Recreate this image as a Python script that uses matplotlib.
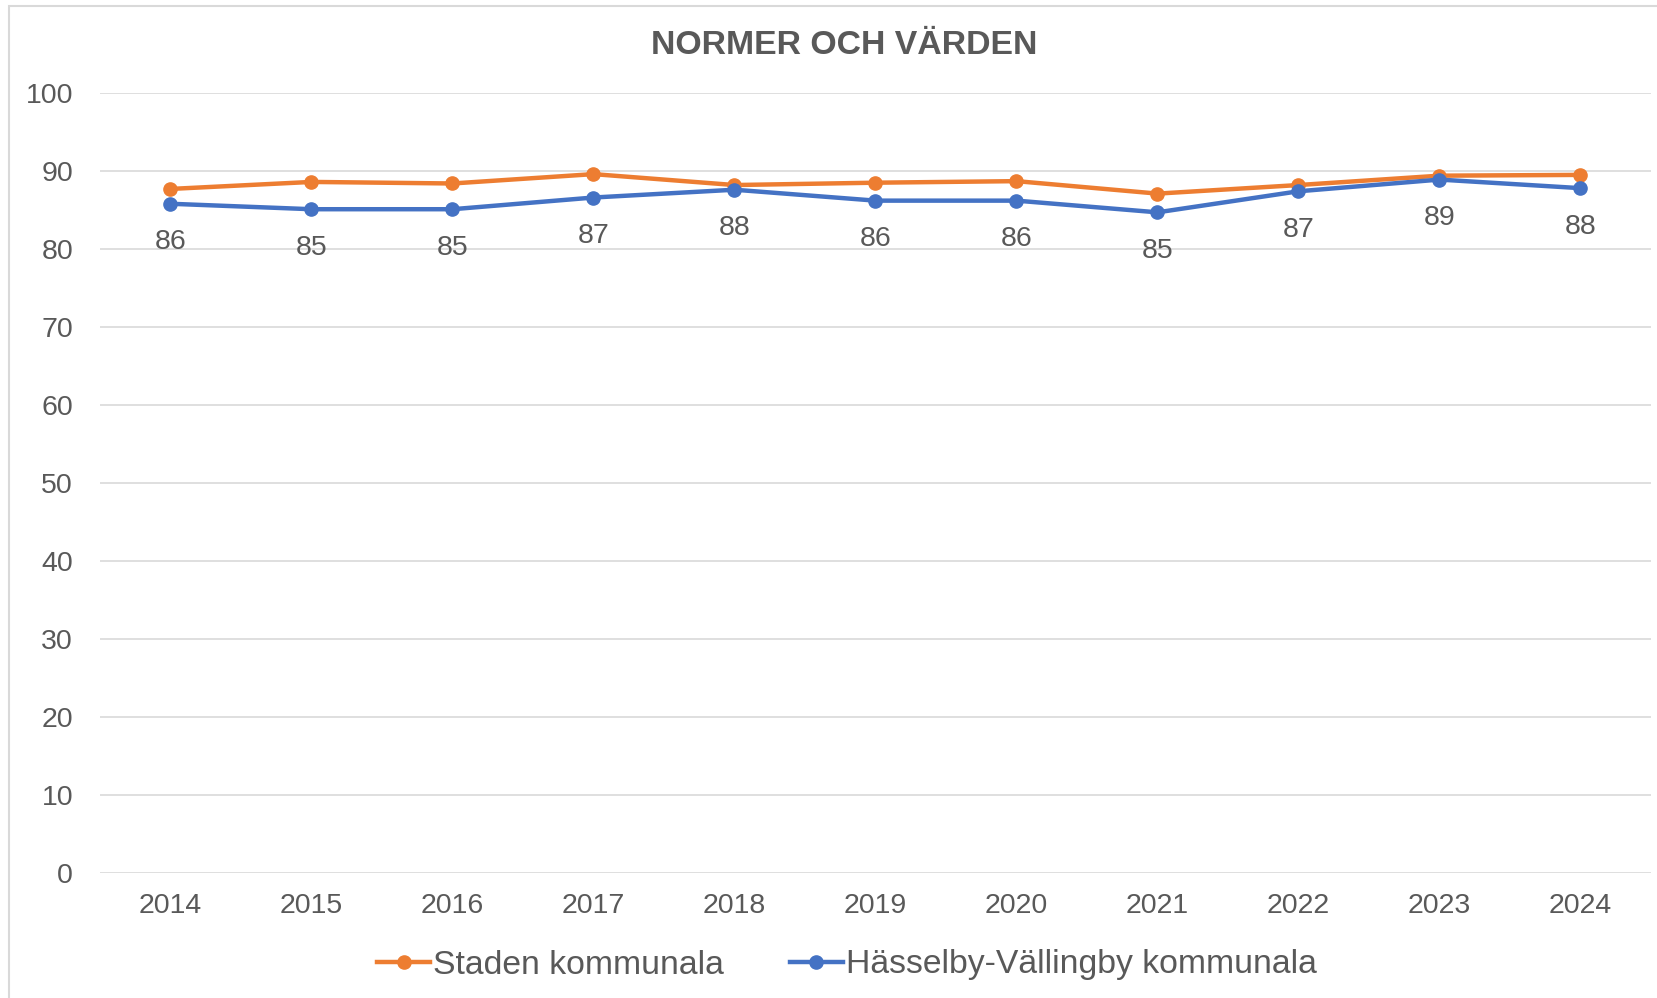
import matplotlib

matplotlib.use("Agg")
import matplotlib.pyplot as plt
from matplotlib.patches import Rectangle

plt.rcParams["font.family"] = ["Liberation Sans", "DejaVu Sans"]

TEXT = "#595959"
GRID = "#D9D9D9"
ORANGE = "#ED7D31"
BLUE = "#4472C4"

years = ["2014", "2015", "2016", "2017", "2018", "2019", "2020", "2021", "2022", "2023", "2024"]
staden = [87.7, 88.6, 88.4, 89.6, 88.2, 88.5, 88.7, 87.1, 88.2, 89.4, 89.5]
hasselby = [85.8, 85.1, 85.1, 86.6, 87.6, 86.2, 86.2, 84.7, 87.4, 88.9, 87.8]
y_ticks = list(range(0, 101, 10))

W, H = 1658, 998
fig = plt.figure(figsize=(W / 100, H / 100), dpi=100)
ax = fig.add_axes([100 / W, 1 - 873 / H, 1551 / W, (873 - 93) / H])

x = list(range(len(years)))
ax.plot(x, staden, color=ORANGE, lw=3.2, marker="o", ms=9.5,
        label="Staden kommunala", zorder=3)
ax.plot(x, hasselby, color=BLUE, lw=3.2, marker="o", ms=9.5,
        label="Hässelby-Vällingby kommunala", zorder=4)

# data labels under the blue series
for i, v in enumerate(hasselby):
    ax.annotate(f"{v:.0f}", (i, v), xytext=(0, -27.8), textcoords="offset points",
                ha="center", va="center", fontsize=20.5, color=TEXT)

ax.set_xlim(-0.5, len(years) - 0.5)
ax.set_ylim(0, 100)
ax.set_xticks(x)
ax.set_xticklabels(years)
ax.set_yticks(y_ticks)
ax.tick_params(axis="both", length=0, labelsize=20.5, labelcolor=TEXT)
ax.tick_params(axis="y", pad=19.4)
ax.tick_params(axis="x", pad=14.5)
ax.grid(axis="y", color=GRID, lw=1.2)
ax.set_axisbelow(True)
for s in ax.spines.values():
    s.set_visible(False)

fig.text(844 / W, 1 - 46 / H, "NORMER OCH VÄRDEN", ha="center", va="center",
         fontsize=24.3, fontweight="bold", color=TEXT)

fig.legend(loc="center", bbox_to_anchor=(847 / W, 1 - 965 / H), ncol=2,
           frameon=False, fontsize=24.3, labelcolor=TEXT, handlelength=1.56,
           handletextpad=0.1, columnspacing=1.95, borderpad=0)

fig.patches.append(Rectangle((9.5 / W, -0.1), 1.2, 1.1 - 5.7 / H,
                             transform=fig.transFigure, fill=False,
                             ec=GRID, lw=1.5))

fig.savefig("out.png", dpi=100)
